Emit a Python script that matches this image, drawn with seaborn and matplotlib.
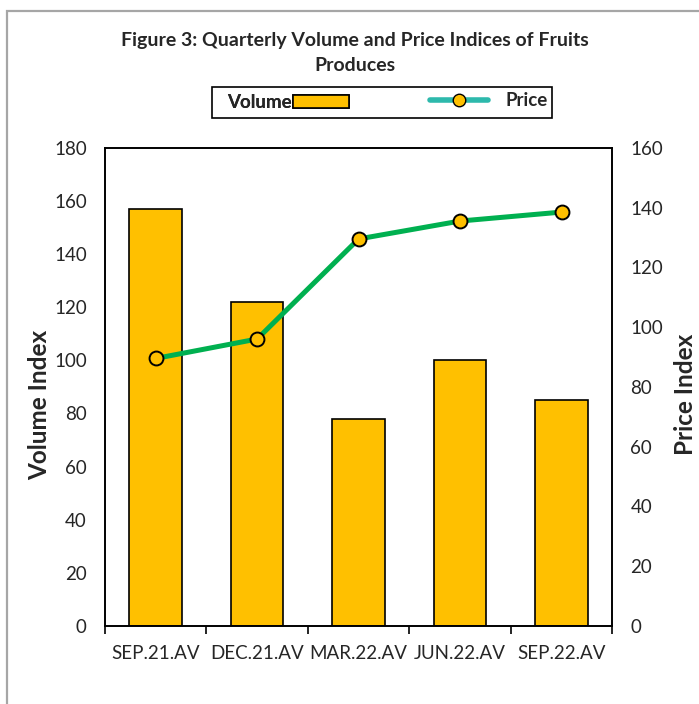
import matplotlib
matplotlib.use("Agg")
import matplotlib.pyplot as plt
import seaborn as sns
from matplotlib.patches import Patch, Rectangle
from matplotlib.lines import Line2D
from matplotlib.ticker import MultipleLocator, FixedLocator

# --- datos ---
quarters = ["SEP.21.AV", "DEC.21.AV", "MAR.22.AV", "JUN.22.AV", "SEP.22.AV"]
volume = [157, 122, 78, 100, 85]
price = [89.5, 96, 129.5, 135.5, 138.5]

BAR_COLOR = "#FFC000"
LINE_COLOR = "#00B050"
LEGEND_LINE = "#2DB9AC"

sns.set_style("white")
plt.rcParams["font.family"] = ["Lato", "DejaVu Sans"]

fig = plt.figure(figsize=(6.99, 7.04), dpi=100)
ax = fig.add_axes([0.150, 0.111, 0.726, 0.679])

sns.barplot(x=quarters, y=volume, ax=ax, color=BAR_COLOR, width=0.52,
            edgecolor="black", linewidth=1.2, saturation=1)
ax.set_ylim(0, 180)
ax.yaxis.set_major_locator(MultipleLocator(20))
ax.set_xlim(-0.5, len(quarters) - 0.5)

ax2 = ax.twinx()
sns.lineplot(x=quarters, y=price, ax=ax2, sort=False, color=LINE_COLOR,
             linewidth=3.6, marker="o", markersize=10,
             markerfacecolor=BAR_COLOR, markeredgecolor="black",
             markeredgewidth=1.4)
ax2.set_ylim(0, 160)
ax2.yaxis.set_major_locator(MultipleLocator(20))
ax.set_xlim(-0.5, len(quarters) - 0.5)

for a in (ax, ax2):
    for s in a.spines.values():
        s.set_visible(True)
        s.set_color("black")
        s.set_linewidth(1.2)
    a.tick_params(axis="y", length=0, labelsize=13.5, pad=13)

ax.tick_params(axis="x", which="major", length=0, labelsize=13.5, pad=14)
ax.xaxis.set_minor_locator(FixedLocator([i - 0.5 for i in range(len(quarters) + 1)]))
ax.tick_params(axis="x", which="minor", bottom=True, length=6, width=1.2,
               direction="out", color="black")
ax.set_xlabel("")

ax.set_ylabel("Volume Index", fontsize=17.5, fontweight="bold")
ax.yaxis.set_label_coords(-0.106, 0.462)
ax2.set_ylabel("Price Index", fontsize=17.5, fontweight="bold")
ax2.yaxis.set_label_coords(1.122, 0.485)

fig.text(0.508, 0.943, "Figure 3: Quarterly Volume and Price Indices of Fruits",
         ha="center", va="center", fontsize=14, fontweight="bold")
fig.text(0.508, 0.907, "Produces", ha="center", va="center",
         fontsize=14, fontweight="bold")

# leyenda (texto antes de la barra, línea antes del texto)
h_vol = Patch(facecolor=BAR_COLOR, edgecolor="black", linewidth=1.2)
h_price = Line2D([], [], color=LEGEND_LINE, linewidth=4, marker="o",
                 markersize=9, markerfacecolor=BAR_COLOR, markeredgecolor="black")
leg1 = fig.legend([h_vol], ["Volume"], loc="center left",
                  bbox_to_anchor=(0.312, 0.854), frameon=False, markerfirst=False,
                  handlelength=3.0, handletextpad=0.05, borderpad=0,
                  prop={"weight": "bold", "size": 13.5})
leg2 = fig.legend([h_price], ["Price"], loc="center left",
                  bbox_to_anchor=(0.602, 0.857), frameon=False,
                  handlelength=3.1, handletextpad=0.9, borderpad=0,
                  prop={"weight": "bold", "size": 13.5})
fig.add_artist(leg1)
fig.patches.append(Rectangle((0.303, 0.832), 0.487, 0.044, transform=fig.transFigure,
                             fill=False, edgecolor="black", linewidth=1.2))

# marco gris del gráfico (solo visible a la izquierda y arriba)
fig.patches.append(Rectangle((7 / 699, -0.1), 2, 1 - 11 / 704 + 0.1,
                             transform=fig.transFigure, fill=False,
                             edgecolor="#A6A6A6", linewidth=1.6))

fig.savefig("out.png", dpi=100)
